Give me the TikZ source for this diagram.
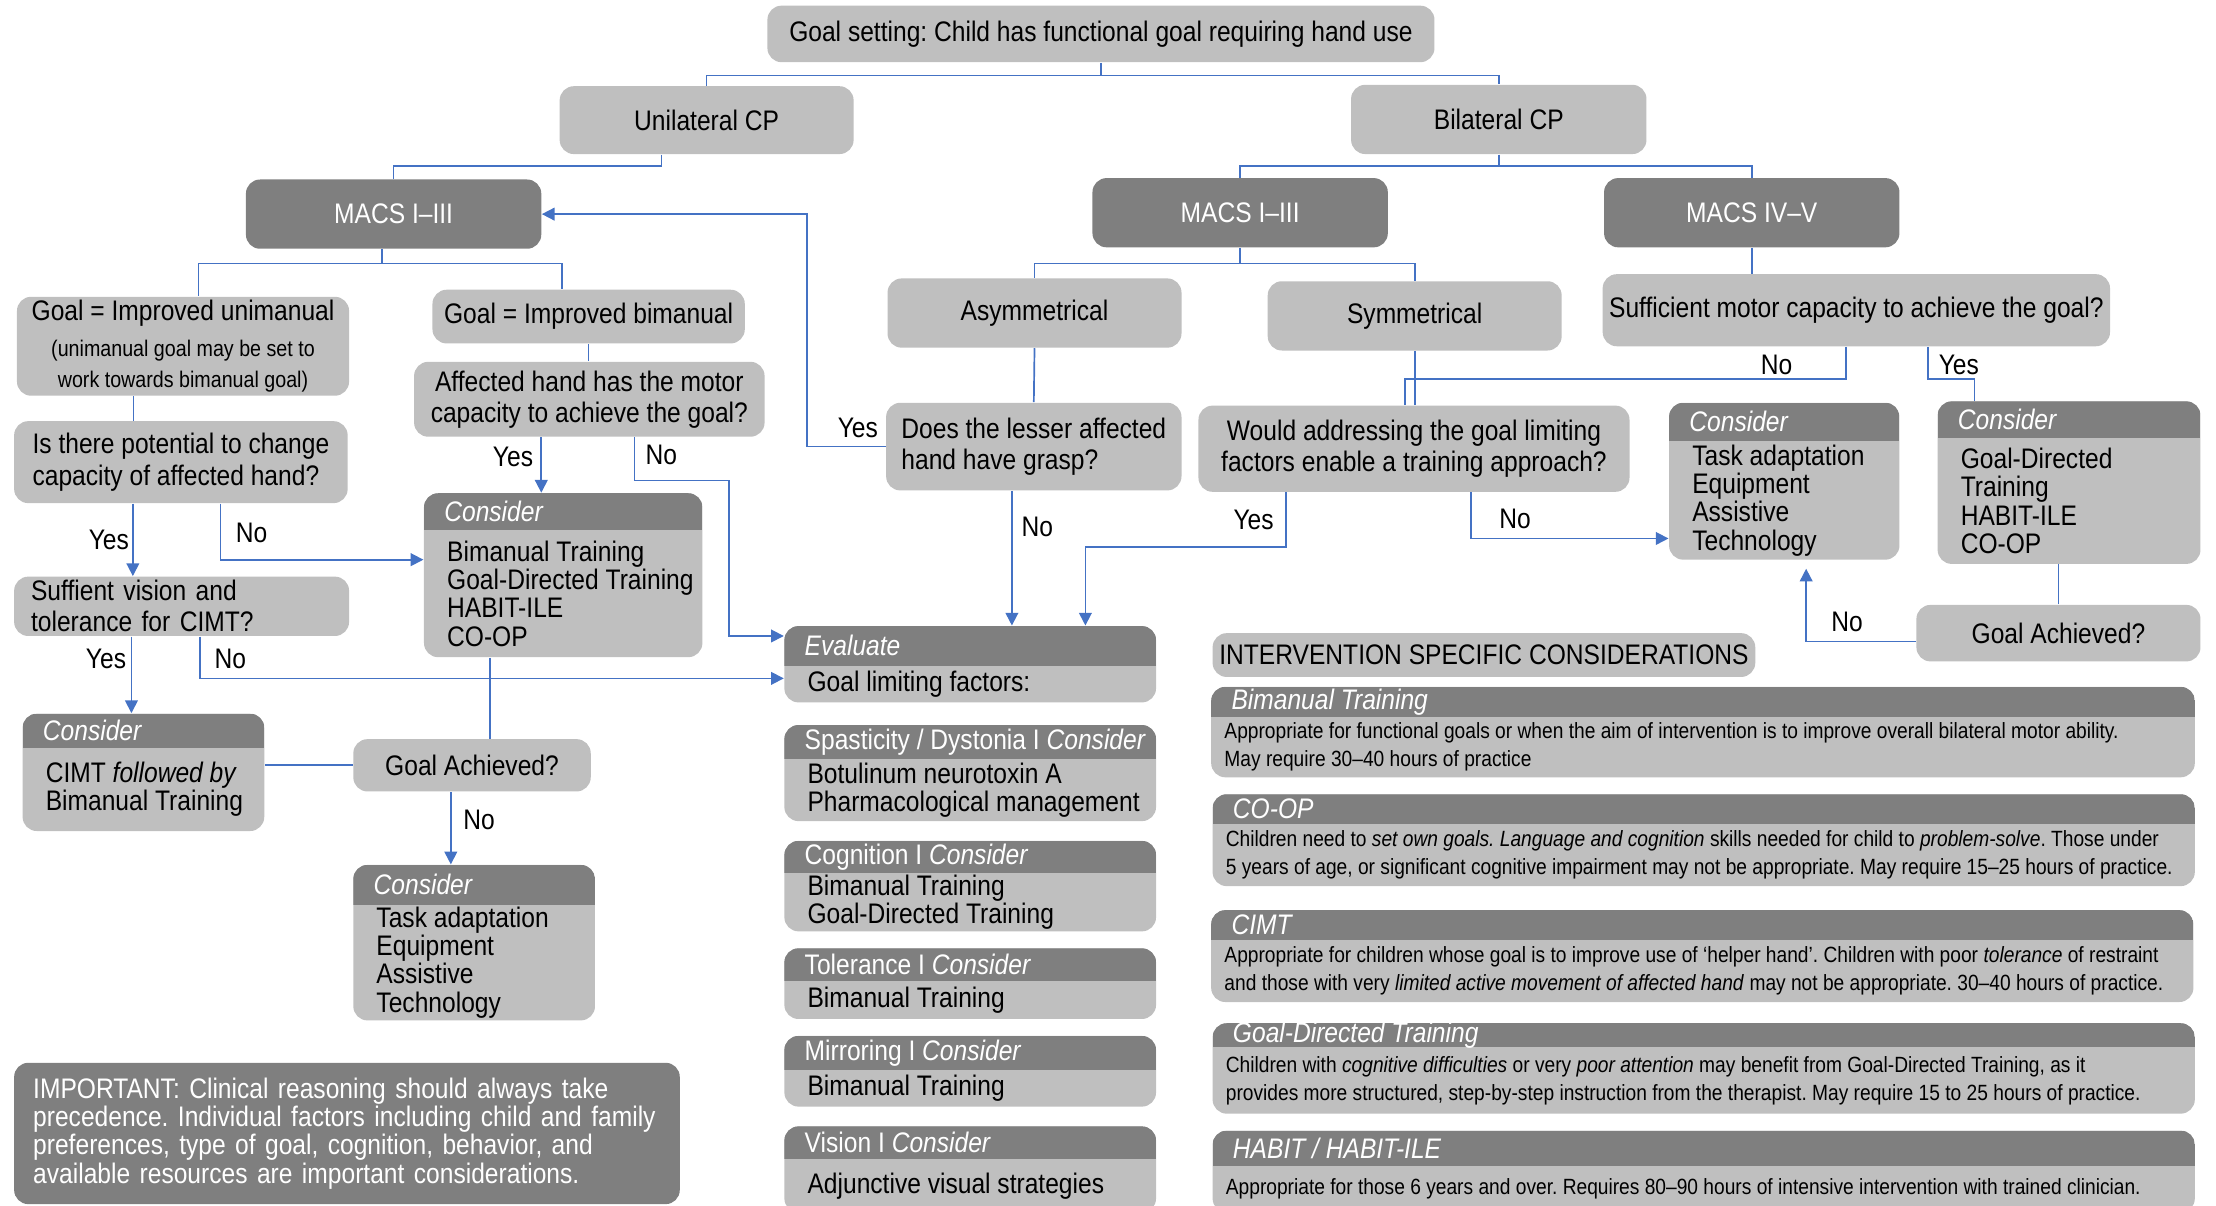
\documentclass[tikz,border=0pt]{standalone}
\usepackage{fontspec}
\setmainfont{Liberation Sans}[FakeStretch=0.87]
\usetikzlibrary{arrows.meta,fit,calc}
\frenchspacing

\definecolor{boxgray}{RGB}{191,191,191}
\definecolor{headgray}{RGB}{127,127,127}
\definecolor{lineblue}{RGB}{68,114,196}

\newcommand{\mainsz}{\fontsize{10}{11}\selectfont}
\newcommand{\listsz}{\fontsize{10}{10}\selectfont}
\newcommand{\notesz}{\fontsize{7.8}{10}\selectfont}
\newcommand{\smallsz}{\fontsize{8}{10.5}\selectfont}

\tikzset{
  box/.style={fill=boxgray, rounded corners=5pt, inner sep=0pt, font=\mainsz, align=center},
  dbox/.style={box, fill=headgray, text=white},
  sz/.style 2 args={minimum width=#1*0.5pt, minimum height=#2*0.5pt},
  headtext/.style={text=white, font=\mainsz, anchor=west, inner sep=0pt, xshift=7pt},
  listbody/.style={font=\listsz, align=left, anchor=west, inner sep=0pt, xshift=8pt},
  notebody/.style={font=\notesz, align=left, anchor=west, inner sep=0pt, xshift=4.5pt},
  lab/.style={font=\mainsz, inner sep=0pt},
  link/.style={draw=lineblue, line width=0.6pt},
  arr/.style={link, -{Triangle[length=4.5pt,width=4.5pt]}}
}

% box with a dark header band: name, x1, y1, x2, y2, header bottom, header text, body style, body text
\newcommand{\panel}[9]{%
  \node[box, fit={(#2,#3) (#4,#5)}] (#1) {};
  \begin{scope}
    \clip[rounded corners=5pt] (#2,#3) rectangle (#4,#5);
    \fill[headgray] (#2,#3) rectangle (#4,#6);
  \end{scope}
  \node[headtext] (#1h) at (#2,{(#3+#6)/2}) {#7};
  \node[#8] (#1b) at (#2,{(#6+#5)/2}) {#9};
}

\begin{document}
\begin{tikzpicture}[x=0.5pt, y=-0.5pt]

    \useasboundingbox (0,0) rectangle (1568,853);

    % Top of the tree
    \node[box, sz={472}{40}] (title) at (779,24) {Goal setting: Child has functional goal requiring hand use};
    \node[box, sz={208}{48}] (unil) at (500,85) {Unilateral CP};
    \node[box, sz={209}{49}] (bil) at (1060.5,84.5) {Bilateral CP};
    \node[dbox, sz={209}{49}] (macsL) at (278.5,151.5) {MACS I–III};
    \node[dbox, sz={209}{49}] (macsM) at (877.5,150.5) {MACS I–III};
    \node[dbox, sz={209}{49}] (macsH) at (1239.5,150.5) {MACS IV–V};

    % Unilateral branch
    \node[box, sz={235}{70}] (unim) at (129.5,245) {Goal = Improved unimanual\\[1.5pt]\smallsz (unimanual goal may be set to\\\smallsz work towards bimanual goal)};
    \node[box, sz={221}{38}] (bim) at (416.5,224) {Goal = Improved bimanual};
    \node[box, sz={248}{53}] (affect) at (417,282.5) {Affected hand has the motor\\capacity to achieve the goal?};
    \node[box, sz={236}{58}, align=left] (potent) at (128,327) {Is there potential to change\\capacity of affected hand?};
    \node[box, sz={237}{42}, align=left, text width=106.5pt] (vision) at (128.5,429) {Suffient vision and\\tolerance for CIMT?};
    \panel{consBim}{300}{349}{497}{465}{375}{\textit{Consider}}{listbody}{Bimanual Training\\Goal-Directed Training\\HABIT-ILE\\CO-OP}
    \panel{consCimt}{16}{505}{187}{588}{529}{\textit{Consider}}{listbody}{CIMT \textit{followed by}\\Bimanual Training}
    \node[box, sz={168}{37}] (achL) at (334,541.5) {Goal Achieved?};
    \panel{consTaskL}{250}{612}{421}{722}{640}{\textit{Consider}}{listbody}{Task adaptation\\Equipment\\Assistive\\Technology}
    \node[dbox, sz={471}{100}, align=left, text width=222pt, font=\listsz] (important) at (245.5,802) {IMPORTANT: Clinical reasoning should always take\\precedence. Individual factors including child and family\\preferences, type of goal, cognition, behavior, and\\available resources are important considerations.};

    % Bilateral branch
    \node[box, sz={208}{49}] (asym) at (732,221.5) {Asymmetrical};
    \node[box, sz={208}{49}] (sym) at (1001,223.5) {Symmetrical};
    \node[box, sz={209}{62}, align=left] (grasp) at (731.5,316) {Does the lesser affected\\hand have grasp?};
    \node[box, sz={305}{61}] (would) at (1000.5,317.5) {Would addressing the goal limiting\\factors enable a training approach?};
    \node[box, sz={359}{51}] (suff) at (1313.5,219.5) {Sufficient motor capacity to achieve the goal?};
    \panel{consTaskR}{1181}{285}{1344}{396}{312}{\textit{Consider}}{listbody}{Task adaptation\\Equipment\\Assistive\\Technology}
    \panel{consGdt}{1371}{284}{1557}{399}{310}{\textit{Consider}}{listbody}{Goal-Directed\\Training\\HABIT-ILE\\CO-OP}
    \node[box, sz={201}{40}] (achR) at (1456.5,448) {Goal Achieved?};

    % Evaluate column
    \panel{evalb}{555}{443}{818}{497}{471}{\textit{Evaluate}}{listbody}{Goal limiting factors:}
    \panel{spas}{555}{513}{818}{581}{537}{Spasticity / Dystonia I \textit{Consider}}{listbody}{Botulinum neurotoxin A\\Pharmacological management}
    \panel{cogn}{555}{595}{818}{659}{618}{Cognition I \textit{Consider}}{listbody}{Bimanual Training\\Goal-Directed Training}
    \panel{toler}{555}{671}{818}{721}{694}{Tolerance I \textit{Consider}}{listbody}{Bimanual Training}
    \panel{mirr}{555}{733}{818}{783}{757}{Mirroring I \textit{Consider}}{listbody}{Bimanual Training}
    \panel{vis}{555}{797}{818}{858}{820}{Vision I \textit{Consider}}{listbody}{Adjunctive visual strategies}

    % Intervention notes
    \node[box, sz={384}{31}] (intv) at (1050,463.5) {INTERVENTION SPECIFIC CONSIDERATIONS};
    \panel{pBim}{857}{486}{1553}{550}{507}{\textit{Bimanual Training}}{notebody}{Appropriate for functional goals or when the aim of intervention is to improve overall bilateral motor ability.\\May require 30–40 hours of practice}
    \panel{pCoop}{858}{562}{1553}{627}{583}{\textit{CO-OP}}{notebody}{Children need to \textit{set own goals. Language and cognition} skills needed for child to \textit{problem-solve}. Those under\\5 years of age, or significant cognitive impairment may not be appropriate. May require 15–25 hours of practice.}
    \panel{pCimt}{857}{644}{1552}{709}{665}{\textit{CIMT}}{notebody}{Appropriate for children whose goal is to improve use of ‘helper hand’. Children with poor \textit{tolerance} of restraint\\and those with very \textit{limited active movement of affected hand} may not be appropriate. 30–40 hours of practice.}
    \panel{pGdt}{858}{724}{1553}{788}{741}{\textit{Goal-Directed Training}}{notebody}{Children with \textit{cognitive difficulties} or very \textit{poor attention} may benefit from Goal-Directed Training, as it\\provides more structured, step-by-step instruction from the therapist. May require 15 to 25 hours of practice.}
    \panel{pHab}{858}{800}{1553}{858}{825}{\textit{HABIT / HABIT-ILE}}{notebody}{Appropriate for those 6 years and over. Requires 80–90 hours of intensive intervention with trained clinician.}

    % Bend points
    \coordinate (bendA) at (516,340);
    \coordinate (bendY) at (571,151.5);
    \coordinate (bendW) at (768,387);
    \coordinate (bendS) at (994,268);
    \coordinate (bendG) at (1397,268);

    % Tree lines
    \draw[link] (title.south) -- ++(0,9) coordinate (tj) -| (unil.north);
    \draw[link] (tj) -| (bil.north);
    \draw[link] ([xshift=-16pt]unil.south) -- ++(0,8) -| (macsL.north);
    \draw[link] (bil.south) -- ++(0,8) coordinate (bj) -| (macsM.north);
    \draw[link] (bj) -| (macsH.north);
    \draw[link] ([xshift=-4pt]macsL.south) -- ++(0,10) coordinate (mj) -| ([xshift=5.5pt]unim.north);
    \draw[link] (mj) -| ([xshift=-9.5pt]bim.north);
    \draw[link] (macsM.south) -- ++(0,11) coordinate (mmj) -| (asym.north);
    \draw[link] (mmj) -| (sym.north);
    \draw[link] (macsH.south) -- (macsH.south |- suff.north);

    % Unilateral decisions
    \draw[link] (bim.south) -- (bim.south |- affect.north);
    \draw[link] ([xshift=-17.5pt]unim.south) -- ([xshift=-16.75pt]potent.north);
    \draw[arr] ([xshift=-17pt]potent.south) -- ([xshift=-17.25pt]vision.north);
    \draw[arr] ([xshift=14pt]potent.south) |- ([yshift=5.5pt]consBim.west);
    \draw[arr] ([xshift=-17.75pt]vision.south) -- ([xshift=-4.25pt]consCimt.north);
    \draw[arr] ([xshift=6.5pt]vision.south) |- ([yshift=-5pt]evalb.west);
    \draw[arr] ([xshift=-17pt]affect.south) -- ([xshift=-7.75pt]consBim.north);
    \draw[arr] ([xshift=16pt]affect.south) |- (bendA) |- ([yshift=10pt]evalb.west);
    \draw[link] ([xshift=-26pt]consBim.south) -- ([xshift=6.25pt]achL.north);
    \draw[link] (achL.west) -- (achL.west -| consCimt.east);
    \draw[arr] ([xshift=-7.5pt]achL.south) -- ([xshift=-8.25pt]consTaskL.north);

    % Bilateral decisions
    \draw[link] (asym.south) -- (grasp.north);
    \draw[arr] (grasp.west) -| (bendY) -- (macsL.east);
    \draw[arr] ([xshift=-7.75pt]grasp.south) -- ([xshift=14.75pt]evalb.north);
    \draw[link] (sym.south) -- ([xshift=0.25pt]would.north);
    \draw[arr] ([xshift=-45.25pt]would.south) |- (bendW) -- (bendW |- evalb.north);
    \draw[arr] ([xshift=20.25pt]would.south) |- ([yshift=-20.25pt]consTaskR.west);
    \draw[link] ([xshift=-3.75pt]suff.south) |- (bendS) -- (bendS |- would.north);
    \draw[link] ([xshift=25.25pt]suff.south) |- (bendG) -- (bendG |- consGdt.north);
    \draw[link] (achR.north) -- (achR.north |- consGdt.south);
    \draw[arr, shorten >=3pt] ([yshift=-3pt]achR.west) -| ([xshift=7.75pt]consTaskR.south);

    % Yes / No labels
    \node[lab] (yesA) at (77,382) {Yes};
    \node[lab] (noA) at (178,377) {No};
    \node[lab] (yesB) at (75,466) {Yes};
    \node[lab] (noB) at (163,466) {No};
    \node[lab] (yesC) at (363,323) {Yes};
    \node[lab] (noC) at (468,322) {No};
    \node[lab] (noD) at (339,580) {No};
    \node[lab] (yesE) at (607,303) {Yes};
    \node[lab] (noE) at (734,373) {No};
    \node[lab] (yesF) at (887,368) {Yes};
    \node[lab] (noF) at (1072,367) {No};
    \node[lab] (noG) at (1257,258) {No};
    \node[lab] (yesG) at (1386,258) {Yes};
    \node[lab] (noH) at (1307,440) {No};

\end{tikzpicture}
\end{document}
